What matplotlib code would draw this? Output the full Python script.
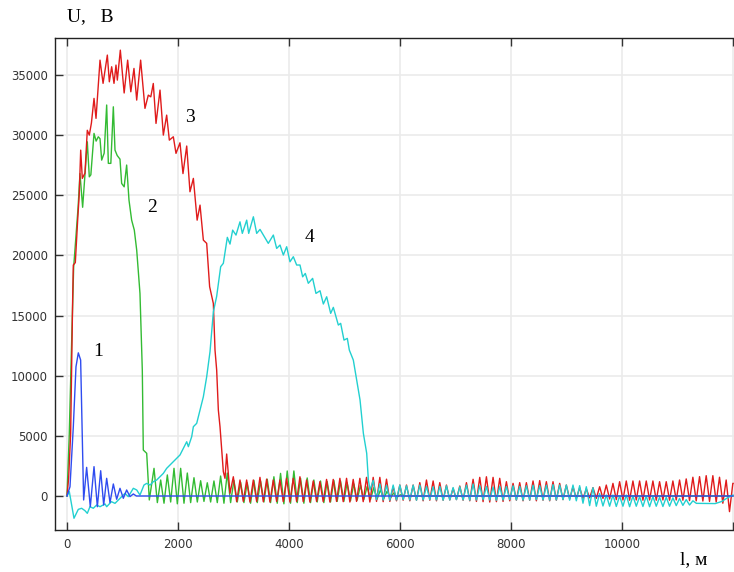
import matplotlib
matplotlib.use("Agg")
import matplotlib.pyplot as plt

PERIOD = 120  # m, spacing of the ripple peaks

# curve 1 (blue)
x1 = [0, 54, 114, 162, 204, 246, 300, 354, 420, 487, 547, 607, 661, 715, 775,
      835, 895, 955, 1015, 1075, 1135, 1195, 1250, 12000]
y1 = [0, 770, 5760, 10740, 11900, 11300, -330, 2380, -890, 2440, -890, 2100, -750,
      1470, -550, 1000, -270, 640, -190, 500, -50, 170, 0, 0]

# curve 2 (green): main pulse, then ripple
x2 = [0, 40, 85, 120, 160, 200, 234, 282, 366, 402, 430, 487, 525, 564, 595, 625,
      670, 715, 745, 790, 835, 865, 905, 955, 985, 1030, 1075, 1117, 1165, 1213,
      1256, 1297, 1315, 1357, 1375, 1436, 1483]
y2 = [0, 5000, 13000, 19000, 21500, 24000, 26800, 24000, 29440, 26530, 26700, 30140,
      29500, 29860, 29700, 27920, 28500, 32500, 27650, 27650, 32350, 28750, 28300,
      28000, 25980, 25700, 27510, 24600, 22930, 22100, 20440, 17950, 16840, 10470,
      3820, 3550, -330]
peaks2 = [2300, 1330, 1750, 2300, 2300, 1910, 1520, 1270, 1100, 1250, 1660, 1910,
          1300, 1150, 1100, 1300, 1250, 1400, 1600, 1880, 2080, 2080, 1470, 1500,
          1330, 1250, 1200, 1300, 1250, 1100, 1000, 900, 800, 700, 500, 400, 250, 100]
troughs2 = [-550, -600, -500, -650, -600, -550, -500, -450, -500, -550, -600, -550,
            -500, -550, -600, -550, -500, -550, -600, -650, -600, -550, -600, -550,
            -500, -550, -500, -450, -450, -400, -350, -300, -300, -250, -200, -150, -100]

# curve 3 (red)
x3 = [0, 30, 66, 102, 114, 150, 192, 220, 247, 276, 324, 366, 402, 440, 487, 523,
      595, 650, 727, 763, 805, 847, 883, 907, 961, 1030, 1093, 1150, 1207, 1256,
      1327, 1405, 1465, 1510, 1555, 1604, 1676, 1736, 1796, 1844, 1916, 1964, 2036,
      2090, 2157, 2216, 2277, 2345, 2397, 2457, 2517, 2570, 2637, 2667, 2697, 2727,
      2757, 2817, 2847, 2877, 2937]
y3 = [0, 1500, 5200, 16300, 19200, 19400, 22900, 25000, 28750, 26400, 26840, 30400,
      30000, 31000, 33050, 31390, 36230, 34300, 36650, 34430, 35680, 34300, 35820,
      34570, 37060, 33500, 36230, 33600, 35540, 32910, 36230, 32220, 33320, 33180,
      34290, 30970, 33740, 30000, 31660, 29580, 29860, 28480, 29360, 26800, 29090,
      25290, 26400, 22930, 24180, 21270, 21000, 17400, 16000, 12130, 10470, 7150,
      5760, 2020, 1470, 3490, 225]
peaks3 = [1600, 1330, 1330, 1330, 1550, 1400, 1330, 1330, 1470, 1470, 1600, 1330,
          1250, 1190, 1380, 1380, 1470, 1470, 1380, 1470, 1550, 1550, 1550, 1400,
          770, 910, 910, 910, 1110, 1330, 1250, 1110, 910, 640, 830, 1110, 1390, 1550,
          1600, 1550, 1470, 1190, 1050, 1110, 1110, 1250, 1280, 1190, 1190,
          1050, 910, 770, 690, 600, 690, 770, 910, 1050, 1190, 1250, 1250, 1250, 1250,
          1250, 1190, 1190, 1250, 1330, 1420, 1560, 1610, 1690, 1690, 1560, 1330, 1050]
troughs3 = [-470, -450, -500, -450, -470, -500, -450, -470, -500, -450, -470, -500,
            -450, -470, -500, -450, -470, -500, -450, -470, -500, -450, -470, -450,
            -400, -350, -400, -350, -400, -350, -400, -350, -330, -300, -350, -400,
            -450, -470, -500, -470, -450, -400, -350, -400, -350, -400, -350, -400, -350,
            -300, -250, -200, -200, -150, -200, -200, -250, -300, -330, -350, -330,
            -350, -330, -350, -330, -350, -330, -350, -380, -400, -420, -450, -500,
            -600, -1300]

# curve 4 (cyan)
x4 = [0, 42, 126, 204, 264, 324, 366, 414, 474, 534, 595, 685, 715, 800, 865, 955,
      1045, 1105, 1195, 1256, 1315, 1387, 1436, 1496, 1556, 1616, 1676, 1736, 1796,
      1856, 1916, 1976, 2036, 2096, 2157, 2187, 2247, 2277, 2337, 2397, 2457, 2517,
      2577, 2637, 2697, 2769, 2817, 2889, 2937, 2985, 3045, 3117, 3159, 3238, 3274,
      3358, 3418, 3478, 3538, 3627, 3718, 3778, 3838, 3898, 3958, 4018, 4078, 4138,
      4198, 4246, 4294, 4348, 4426, 4486, 4559, 4619, 4679, 4751, 4799, 4889, 4931,
      4991, 5051, 5087, 5159, 5220, 5280, 5340, 5400, 5430, 5460]
y4 = [0, 360, -1850, -1110, -1020, -1220, -1440, -890, -1020, -750, -890, -660, -890,
      -470, -610, -190, 220, -55, 640, 500, 80, 910, 1050, 910, 1190, 1330, 1600,
      1880, 2300, 2580, 2850, 3130, 3410, 3960, 4510, 4100, 4930, 5760, 6040, 7150,
      8250, 9910, 12000, 15300, 16600, 19060, 19340, 21500, 20940, 22100, 21690,
      22790, 21830, 22930, 21830, 23210, 21830, 22160, 21690, 21000, 21690, 20580,
      20860, 20030, 20720, 19470, 19890, 19200, 19200, 18220, 18500, 17680, 18090,
      16840, 17060, 15960, 16560, 15180, 15680, 14210, 14350, 12960, 13100, 12130,
      11300, 9640, 7980, 5210, 3550, 1330, 500]
peaks4 = [1300, 1000, 900, 910, 910, 850, 900, 910, 800, 770, 800, 850, 700, 770, 900,
          1000, 850, 800, 750, 800, 800, 850, 800, 850, 900, 850, 900, 950, 910, 910,
          910, 860, 770, 690, 200, 80, 80, 0, 80, 0, -50, 0, -50, -100, -100, -150,
          -200, -300, -400]
troughs4 = [-300, -330, -350, -330, -300, -330, -350, -330, -300, -330, -350, -330,
            -300, -330, -350, -330, -300, -330, -350, -330, -300, -330, -350, -330,
            -300, -330, -350, -330, -300, -350, -400, -600,
            -800, -850, -830, -850, -870, -850, -890, -850, -870, -890, -850, -870,
            -850, -800, -780, -750]
x4_end = [11340, 11680, 11800, 11900, 12000]
y4_end = [-610, -630, -450, -150, 80]


def ripple(x0, peaks, troughs):
    xs, ys = [], []
    for i, p in enumerate(peaks):
        xs.append(x0 + PERIOD * i)
        ys.append(p)
        if i < len(troughs):
            xs.append(x0 + PERIOD * i + PERIOD / 2)
            ys.append(troughs[i])
    return xs, ys


rx, ry = ripple(1568, peaks2, troughs2)
gx = x2 + rx + [6100, 12000]
gy = y2 + ry + [0, 0]

rx, ry = ripple(2997, peaks3, troughs3)
redx = x3 + rx + [12000]
redy = y3 + ry + [1050]

rx, ry = ripple(5517, peaks4, troughs4)
cx = x4 + rx + x4_end
cy = y4 + ry + y4_end

fig = plt.figure(figsize=(7.34, 5.72), dpi=100)
ax = fig.add_axes([55 / 734, 42 / 572, 679 / 734, 492 / 572])

ax.plot(gx, gy, color="#33bb33", lw=1.0)
ax.plot(redx, redy, color="#e01b1b", lw=1.0)
ax.plot(cx, cy, color="#22d0d0", lw=1.0)
ax.plot(x1, y1, color="#2f4cf0", lw=1.0)

ax.set_xlim(-216, 12018)
ax.set_ylim(-2826, 38070)

xt = [0, 2000, 4000, 6000, 8000, 10000, 12000]
ax.set_xticks(xt)
ax.set_xticklabels(["0", "2000", "4000", "6000", "8000", "10000", ""])
ax.set_yticks(range(0, 35001, 5000))
ax.tick_params(axis="both", direction="in", length=6, width=1, color="#333333",
               labelsize=8.5, labelcolor="#333333")
ax.tick_params(axis="x", top=True, pad=6)
ax.tick_params(axis="y", pad=5)
ax.grid(color="#ebebeb", linewidth=1.2)
ax.set_axisbelow(True)
for s in ["top", "left", "bottom"]:
    ax.spines[s].set_color("#222222")
    ax.spines[s].set_linewidth(1.0)
ax.spines["right"].set_visible(False)

serif = "Liberation Serif"
fig.text(67 / 734, 1 - 17 / 572, "U,   B", family=serif, fontsize=14, va="center")
fig.text(680 / 734, 1 - 560 / 572, "l, м", family=serif, fontsize=14, va="center")
ax.text(468, 11970, "1", family=serif, fontsize=14, va="center")
ax.text(1442, 24000, "2", family=serif, fontsize=14, va="center")
ax.text(2126, 31500, "3", family=serif, fontsize=14, va="center")
ax.text(4289, 21520, "4", family=serif, fontsize=14, va="center")

fig.savefig("out.png", dpi=100)
